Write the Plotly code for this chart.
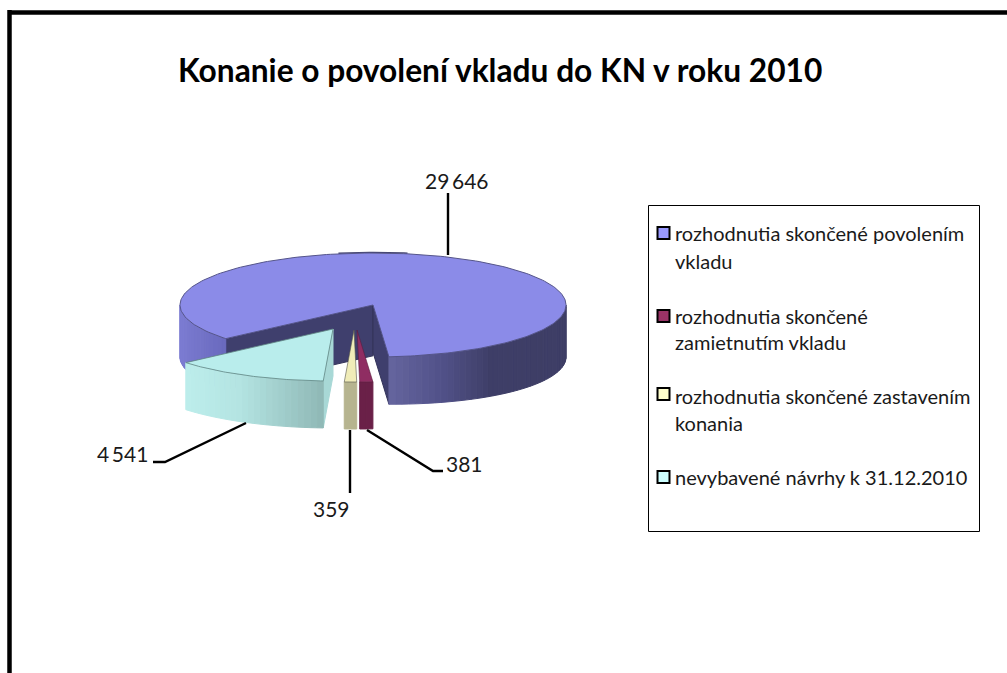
import numpy as np
import plotly.graph_objects as go

# ---- data ----
title = "Konanie o povolení vkladu do KN v roku 2010"
categories = [
    "rozhodnutia skončené povolením vkladu",
    "rozhodnutia skončené zamietnutím vkladu",
    "rozhodnutia skončené zastavením konania",
    "nevybavené návrhy k 31.12.2010",
]
values = [29646, 381, 359, 4541]
legend_lines = [
    ["rozhodnutia skončené povolením", "vkladu"],
    ["rozhodnutia skončené", "zamietnutím vkladu"],
    ["rozhodnutia skončené zastavením", "konania"],
    ["nevybavené návrhy k 31.12.2010"],
]

# ---- styling / layout ----
FONT = "Lato"
TOP = ["#8b8be8", "#8f2d62", "#f0ecb8", "#b9edec"]
FACE = ["#3f3f6d", "#6a2048", "#b6b48f", "#a8d8d6"]
LEG = ["#9999ff", "#993366", "#ffffcc", "#ccffff"]
APEX = [(373, 305), (357, 330), (354, 330), (333, 329)]
RX, RY, DEPTH = 193, 52, 47
SIDE_EXTRA = [5, 0, 0, 0]
START_DEG = 229.7
LEG_Y = [[233, 261], [316, 342], [396, 423], [477]]
LEG_MARK_Y = [233, 316, 394, 477]

fig = go.Figure()


def poly(xs, ys, fill, line=None, width=1, name=None):
    fig.add_trace(go.Scatter(
        x=list(xs), y=list(ys), mode="lines", fill="toself", fillcolor=fill,
        line=dict(color=line or fill, width=width), hoverinfo="skip",
        showlegend=False, name=name))


def hexrgb(c):
    return np.array([int(c[i:i + 2], 16) for i in (1, 3, 5)], float)


def ramp(x, xs, cols):
    arr = np.array([hexrgb(c) for c in cols])
    rgb = [int(np.interp(x, xs, arr[:, i])) for i in range(3)]
    return f"rgb({rgb[0]},{rgb[1]},{rgb[2]})"


def pts(i, th):
    """screen position of rim angle th (radians, clockwise from top)"""
    ax, ay = APEX[i]
    return ax + RX * np.sin(th), ay - RY * np.cos(th)


def dep(i, th):
    return DEPTH + SIDE_EXTRA[i] * np.abs(np.sin(th))


def cut_face(i, th, color):
    ax, ay = APEX[i]
    x, y = pts(i, th)
    d = dep(i, th)
    poly([ax, x, x, ax, ax], [ay, y, y + d, ay + d, ay], color, line="#34345a" if i == 0 else color)


def wall(i, t0, t1, colfun):
    edges = np.linspace(t0, t1, max(2, int(abs(t1 - t0) / np.radians(2)) + 2))
    for a, b in zip(edges[:-1], edges[1:]):
        xa, ya = pts(i, a)
        xb, yb = pts(i, b)
        c = colfun((xa + xb) / 2)
        poly([xa, xb, xb, xa, xa], [ya, yb, yb + dep(i, b), ya + dep(i, a), ya], c)


# slice angles from the values
total = sum(values)
sweeps = [np.radians(v / total * 360) for v in values]
starts = np.radians(START_DEG) + np.concatenate([[0], np.cumsum(sweeps)[:-1]])
ends = [s + w for s, w in zip(starts, sweeps)]
T = 2 * np.pi

# big slice: back sliver, cut faces, walls, top
th_back = np.linspace(T - 0.18, T + 0.18, 21)
fig.add_trace(go.Scatter(
    x=APEX[0][0] + RX * np.sin(th_back), y=APEX[0][1] - (RY + 0.6) * np.cos(th_back),
    mode="lines", line=dict(color="#45456f", width=1.5), hoverinfo="skip", showlegend=False))
cut_face(0, starts[0], FACE[0])
cut_face(0, ends[0], FACE[0])
right_ramp = lambda x: ramp(x, [388, 440, 490, 567], ["#66669f", "#52528a", "#3f3f68", "#3e3e66"])
left_ramp = lambda x: ramp(x, [180, 226], ["#7c7cd2", "#6a6abe"])
wall(0, T + np.pi / 2, ends[0], right_ramp)   # right/front part of the rim
wall(0, np.pi * 1.5, starts[0], left_ramp)    # left part of the rim
th = np.linspace(starts[0], ends[0], 240)
x, y = pts(0, th)
poly(np.r_[APEX[0][0], x, APEX[0][0]], np.r_[APEX[0][1], y, APEX[0][1]], TOP[0], line="#55558a", width=1, name=categories[0])

# two thin slices
for i in (1, 2):
    wall(i, starts[i], ends[i], lambda _x, c=FACE[i]: c)
    th = np.linspace(starts[i], ends[i], 8)
    x, y = pts(i, th)
    poly(np.r_[APEX[i][0], x, APEX[i][0]], np.r_[APEX[i][1], y, APEX[i][1]], TOP[i], line="#55554a" if i == 2 else "#5a1c3e", width=0.6, name=categories[i])

# exploded cyan slice
i = 3
cut_face(i, starts[i], FACE[i])
wall(i, starts[i], ends[i], lambda x_: ramp(x_, [186, 240, 323], ["#bdeeec", "#b4e4e2", "#8fb8b6"]))
th = np.linspace(starts[i], ends[i], 60)
x, y = pts(i, th)
poly(np.r_[APEX[i][0], x, APEX[i][0]], np.r_[APEX[i][1], y, APEX[i][1]], TOP[i], line="#5f8583", width=0.8, name=categories[i])

# leader lines and value labels
fmt = lambda v: f"{v:,}".replace(",", "\u2009")
leaders = [
    ([448, 448], [255, 193]),
    ([367, 433, 443], [430, 471, 471]),
    ([350, 350], [430, 493]),
    ([246, 165, 153], [423, 462, 462]),
]
label_pos = [(457, 180), (464, 463), (331, 508), (122, 453)]
for k, (lx, ly) in enumerate(leaders):
    fig.add_trace(go.Scatter(x=lx, y=ly, mode="lines", line=dict(color="black", width=2.4),
                             hoverinfo="skip", showlegend=False))
    px_, py_ = label_pos[k]
    fig.add_annotation(x=px_, y=py_, text=fmt(values[k]), showarrow=False, xanchor="center", yanchor="middle",
                       font=dict(family=FONT, size=21, color="#1a1a1a"))

shapes = [
    dict(type="line", x0=9.5, y0=12.5, x1=1007, y1=12.5, line=dict(color="black", width=4.5)),
    dict(type="line", x0=9.5, y0=10, x1=9.5, y1=673, line=dict(color="black", width=4.5)),
    dict(type="rect", x0=648.5, y0=205.5, x1=979.5, y1=531.5, line=dict(color="black", width=1), fillcolor="white"),
]
for k, ym in enumerate(LEG_MARK_Y):
    shapes.append(dict(type="rect", x0=657.5, y0=ym - 6, x1=669.5, y1=ym + 6, fillcolor=LEG[k],
                       line=dict(color="black", width=2), layer="above"))
    for txt, yt in zip(legend_lines[k], LEG_Y[k]):
        fig.add_annotation(x=673, y=yt, text=txt, showarrow=False, xanchor="left", yanchor="middle",
                           font=dict(family=FONT, size=20, color="#1a1a1a"))

fig.add_annotation(x=499.5, y=70, text=title, showarrow=False, xanchor="center", yanchor="middle",
                   font=dict(family=FONT, size=31.7, color="black", weight="bold"))

fig.update_layout(
    width=1007, height=673, margin=dict(l=0, r=0, t=0, b=0),
    paper_bgcolor="white", plot_bgcolor="white", showlegend=False, shapes=shapes,
    xaxis=dict(range=[0, 1007], visible=False, fixedrange=True),
    yaxis=dict(range=[673, 0], visible=False, fixedrange=True),
)
fig.write_html("out.html", config={"displayModeBar": False},
               post_script="document.body.style.margin='0';document.body.style.overflow='hidden';")
